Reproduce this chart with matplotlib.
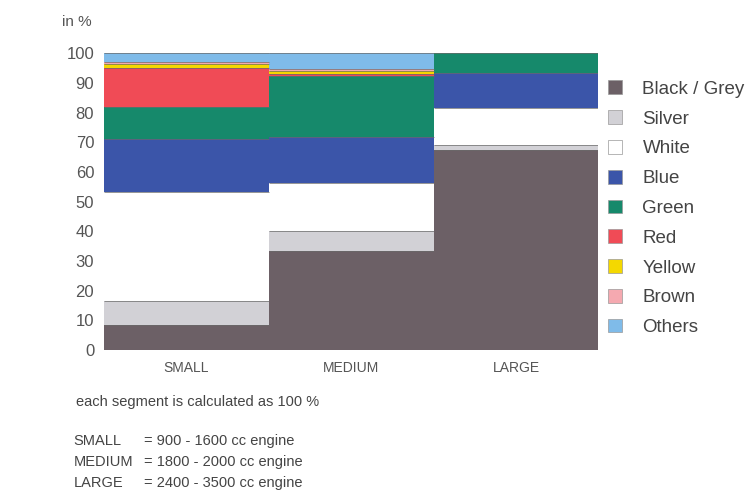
import numpy as np
import matplotlib
matplotlib.use("Agg")
import matplotlib.pyplot as plt
from matplotlib.patches import Patch

plt.rcParams['font.family'] = ['Liberation Sans', 'DejaVu Sans']

# engine size classes
sizes = ['SMALL', 'MEDIUM', 'LARGE']
colours = ['Black / Grey', 'Silver', 'White', 'Blue', 'Green', 'Red', 'Yellow', 'Brown', 'Others']

# share of each colour per class, in %
black_grey = [8.5, 33.4, 67.5]
silver = [8.0, 6.6, 1.6]
white = [36.7, 16.3, 12.3]
blue = [18.0, 15.5, 11.8]
green = [10.8, 20.5, 6.8]
red = [13.0, 0.6, 0.0]
yellow = [1.3, 1.2, 0.0]
brown = [0.7, 0.7, 0.0]
others = [3.0, 5.2, 0.0]

shares = [black_grey, silver, white, blue, green, red, yellow, brown, others]
fills = ['#6c6066', '#d2d1d6', '#ffffff', '#3b55a9', '#16896b',
         '#f04b56', '#f4d800', '#f5a9b0', '#7fbbe9']

fig = plt.figure(figsize=(7.48, 4.97), dpi=100)
ax = fig.add_axes([0.139, 0.296, 0.661, 0.597])

x = np.arange(len(sizes))
bottom = np.zeros(len(sizes))
for vals, c in zip(shares, fills):
    vals = np.array(vals)
    ax.bar(x, vals, width=1.0, bottom=bottom, color=c, edgecolor='none', linewidth=0)
    bottom += vals
    # thin separator on top of each non-empty segment
    for xi, v, b in zip(x, vals, bottom):
        if v > 0:
            ax.hlines(b, xi - 0.5, xi + 0.5, color='#6a6a6a', linewidth=0.5)

ax.set_xlim(-0.5, 2.5)
ax.set_ylim(0, 100)
ax.set_yticks(np.arange(0, 101, 10))
ax.set_xticks(x)
ax.set_xticklabels(sizes)
for s in ax.spines.values():
    s.set_visible(False)
ax.tick_params(axis='y', length=0, pad=7, labelsize=12, labelcolor='#555555')
ax.tick_params(axis='x', length=0, pad=8, labelsize=10, labelcolor='#555555')

fig.text(0.083, 0.955, 'in %', fontsize=11, color='#555555', va='center')

handles = [Patch(facecolor=c, edgecolor='#999999', linewidth=0.5) for c in fills]
fig.legend(handles, colours, loc='upper left', bbox_to_anchor=(0.79, 0.872),
           frameon=False, fontsize=13.5, handlelength=0.75, handleheight=0.75,
           handletextpad=1.1, labelspacing=0.66, labelcolor='#444444')

fig.text(0.102, 0.191, 'each segment is calculated as 100 %', fontsize=10.5, color='#444444', va='center')
notes_left = ['SMALL', 'MEDIUM', 'LARGE']
notes_right = ['= 900 - 1600 cc engine', '= 1800 - 2000 cc engine', '= 2400 - 3500 cc engine']
for i, (a, b) in enumerate(zip(notes_left, notes_right)):
    yy = 0.112 - i * 0.042
    fig.text(0.098, yy, a, fontsize=10.5, color='#444444', va='center')
    fig.text(0.193, yy, b, fontsize=10.5, color='#444444', va='center')

fig.savefig('out.png', dpi=100)
